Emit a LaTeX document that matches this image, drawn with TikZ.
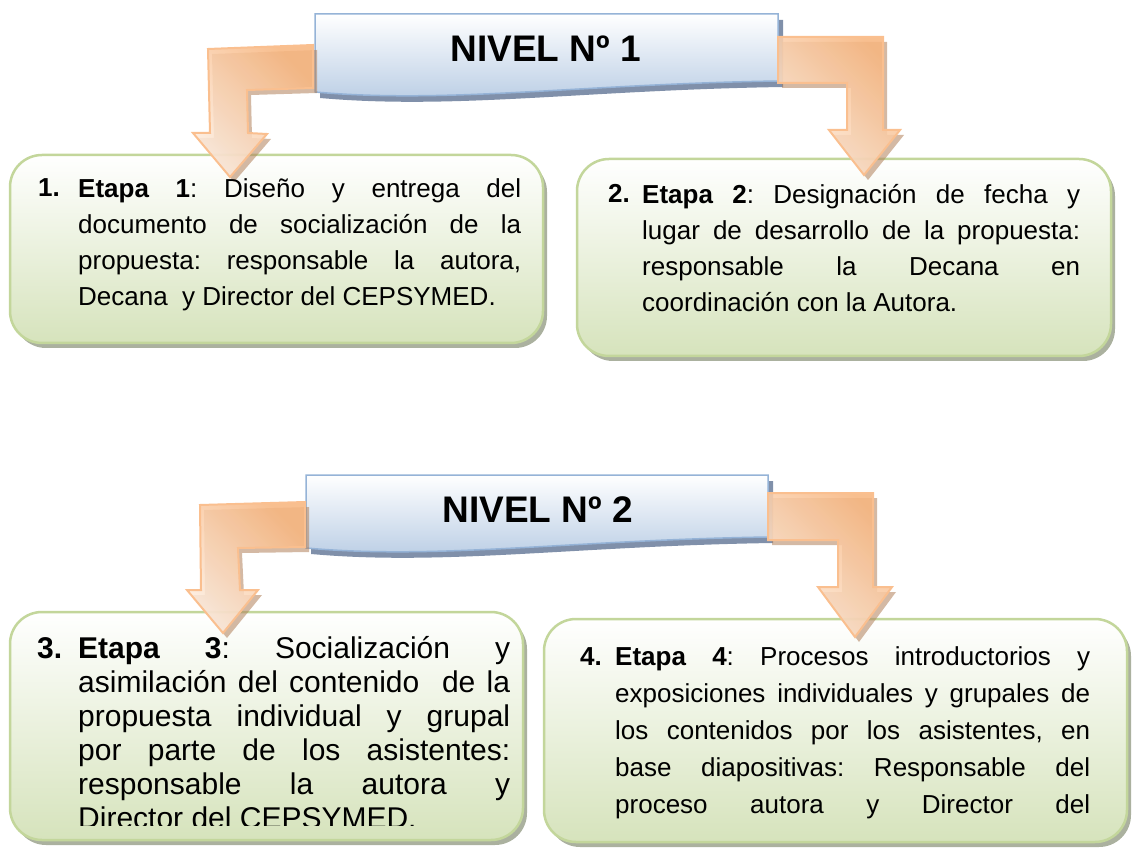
\documentclass[tikz,border=0pt]{standalone}
\usepackage{fontspec}
\setmainfont{Liberation Sans}
\usetikzlibrary{shadows}
\frenchspacing
\definecolor{bxline}{RGB}{195,214,155}
\definecolor{bxfill}{RGB}{214,227,188}
\definecolor{bxshadow}{RGB}{150,158,135}
\definecolor{bnline}{RGB}{149,179,215}
\definecolor{bnfill}{RGB}{184,204,228}
\definecolor{bnshadow}{RGB}{128,144,170}
\definecolor{arline}{RGB}{250,191,143}
\definecolor{arlight}{RGB}{253,236,222}
\definecolor{ardark}{RGB}{247,182,128}
\definecolor{arshadow}{RGB}{176,128,90}
\begin{document}
\begin{tikzpicture}[x=1pt,y=-1pt,
  stagebox/.style={draw=bxline, line width=2.5pt, rounded corners=32pt,
    top color=white, bottom color=bxfill, inner sep=0pt,
    general shadow={fill=bxshadow, shadow xshift=4pt, shadow yshift=-5pt, opacity=0.8}},
  banner/.style={draw=bnline, line width=1.5pt, top color=white, bottom color=bnfill,
    general shadow={fill=bnshadow, shadow xshift=5pt, shadow yshift=-6pt}},
  bentarrow/.style={draw=arline, line width=2pt, line join=miter, fill opacity=0.88,
    top color=ardark, middle color=arlight, bottom color=arlight, shading angle=-45,
    general shadow={fill=arshadow, shadow xshift=4pt, shadow yshift=-5pt, opacity=0.55}},
  title/.style={anchor=base, inner sep=0pt, font=\fontsize{37}{40}\selectfont\bfseries},
  numlbl/.style={anchor=base west, inner sep=0pt},
  stagetext/.style={anchor=north west, inner sep=0pt, align=justify}
]
\useasboundingbox (0,0) rectangle (1136,850);

% stage boxes
\node[stagebox, minimum width=533pt, minimum height=188pt] (s1) at (276.5,249) {};
\node[stagebox, minimum width=534pt, minimum height=197pt] (s2) at (844,257.5) {};
\node[stagebox, minimum width=513pt, minimum height=228pt] (s3) at (266.5,726) {};
\node[stagebox, minimum width=583pt, minimum height=223pt] (s4) at (835.5,730.5) {};

% banners
\path[banner] (315,14) -- (778,14) -- (778,81) .. controls (580,84) and (450,104) .. (315,92) -- cycle;
\path[banner] (306,475) -- (768,475) -- (768,537) .. controls (570,540) and (440,560) .. (306,548) -- cycle;
\node[title] (n1) at (545.5,62) {NIVEL Nº 1};
\node[title] (n2) at (537.5,522) {NIVEL Nº 2};

% bent arrows level 1
\path[bentarrow] (208,49) -- (313,45) -- (313,88) -- (247,90) -- (248,133) -- (267,134)
  -- (230,177) -- (193,133) -- (210,133) -- cycle;
\path[bentarrow] (778,37) -- (883,37) -- (883,130) -- (900,130) -- (864,175)
  -- (829,130) -- (847,130) -- (847,83) -- (778,83) -- cycle;
% bent arrows level 2
\path[bentarrow] (200,505) -- (305,502) -- (305,547) -- (238,548) -- (240,590) -- (258,590)
  -- (223,633) -- (187,590) -- (201,590) -- cycle;
\path[bentarrow] (768,493) -- (873,493) -- (873,587) -- (892,587) -- (855,637)
  -- (818,587) -- (838,587) -- (838,540) -- (768,540) -- cycle;

% texts box 1
\node[numlbl, font=\fontsize{26}{36}\selectfont\bfseries] (k1) at (38,197) {1.};
\node[stagetext, text width=443pt, font=\fontsize{26}{36}\selectfont] (t1) at (78,171.8)
  {\strut\textbf{Etapa 1}: Diseño y entrega del\linebreak
   documento de socialización de la\linebreak
   propuesta: responsable la autora,\linebreak
   Decana\ \ y Director del CEPSYMED.};

% texts box 2
\node[numlbl, font=\fontsize{26}{36}\selectfont\bfseries] (k2) at (608,203) {2.};
\node[stagetext, text width=438pt, font=\fontsize{26}{36}\selectfont] (t2) at (642,177.8)
  {\strut\textbf{Etapa 2}: Designación de fecha y\linebreak
   lugar de desarrollo de la propuesta:\linebreak
   responsable la Decana en\linebreak
   coordinación con la Autora.};

% texts box 3 (last line cut off)
\begin{scope}
\clip (0,600) rectangle (540,825);
\node[numlbl, font=\fontsize{30}{34}\selectfont\bfseries] (k3) at (37,658) {3.};
\node[stagetext, text width=432pt, font=\fontsize{30}{34}\selectfont] (t3) at (78,634.2)
  {\strut\textbf{Etapa 3}: Socialización y\linebreak
   asimilación del contenido\ \ de la\linebreak
   propuesta individual y grupal\linebreak
   por parte de los asistentes:\linebreak
   responsable la autora y\linebreak
   Director del CEPSYMED.};
\end{scope}

% texts box 4
\node[numlbl, font=\fontsize{26}{37}\selectfont\bfseries] (k4) at (580,665) {4.};
\node[stagetext, text width=475pt, font=\fontsize{26}{37}\selectfont] (t4) at (615,639.1)
  {\parfillskip=0pt \strut\textbf{Etapa 4}: Procesos introductorios y\linebreak
   exposiciones individuales y grupales de\linebreak
   los contenidos por los asistentes, en\linebreak
   base diapositivas: Responsable del\linebreak
   proceso autora y Director del\par};
\end{tikzpicture}
\end{document}
